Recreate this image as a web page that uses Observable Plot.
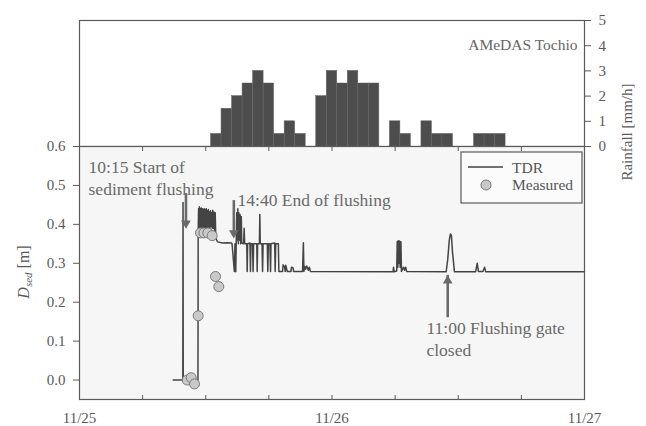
<!DOCTYPE html>
<html><head><meta charset="utf-8">
<script src="https://cdn.jsdelivr.net/npm/d3@7"></script>
<script src="https://cdn.jsdelivr.net/npm/@observablehq/plot@0.6"></script>
<style>
html,body{margin:0;padding:0;background:#fff;}
#chart{position:relative;width:646px;height:426px;}
#chart svg{position:absolute;left:0;top:0;}
</style></head><body><div id="chart"></div>
<script>
// ---- data (hours since 11/25 00:00) ----
const rainHours  = [13,14,15,16,17,18,19,20,21,22,23,24,25,26,27,28,29,30,31,32,33,34,35,36,37,38,39,40];
const rainValues = [0.5,1.5,2,2.5,3,2.5,0.5,1,0.5,0,2,3,2.5,3,2.5,2.5,0,1,0.5,0,1,0.5,0.5,0,0,0.5,0.5,0.5];
const rainTicks = [0,1,2,3,4,5];
const dayTicks = [0,24,48];
const dayLabels = ["11/25","11/26","11/27"];
const sixHourTicks = [0,6,12,18,24,30,36,42,48];
const depthTicks = [0,0.1,0.2,0.3,0.4,0.5,0.6];

const tdr = [
 [8.9,0],[9.82,0],[9.84,0.456],[9.86,0],[11.26,0],[11.28,0.38],
 [11.32,0.44],[11.36,0.38],[11.40,0.445],[11.44,0.375],[11.49,0.44],[11.53,0.38],[11.58,0.442],[11.62,0.375],
 [11.67,0.44],[11.71,0.38],[11.76,0.438],[11.8,0.378],[11.85,0.44],[11.9,0.38],[11.95,0.438],[12.0,0.38],
 [12.05,0.44],[12.1,0.385],[12.15,0.435],[12.2,0.385],[12.25,0.438],[12.3,0.39],[12.35,0.432],[12.4,0.39],
 [12.45,0.435],[12.5,0.395],[12.55,0.43],[12.6,0.39],[12.66,0.436],[12.72,0.39],[12.78,0.432],[12.84,0.385],
 [12.9,0.43],[12.95,0.37],[13.0,0.362],[13.1,0.356],[13.15,0.355],[13.6,0.352],[14.0,0.353],[14.45,0.352],
 [14.5,0.35],[14.72,0.279],[14.78,0.35],[14.85,0.278],[14.95,0.43],[15.0,0.36],[15.05,0.44],[15.1,0.35],
 [15.15,0.43],[15.2,0.36],[15.26,0.425],[15.32,0.35],[15.38,0.42],[15.42,0.352],[15.6,0.35],[15.65,0.39],
 [15.7,0.35],[15.9,0.35],[15.94,0.279],[15.98,0.35],[16.2,0.352],[16.25,0.279],[16.3,0.35],[16.45,0.35],
 [16.5,0.279],[16.55,0.35],[16.85,0.35],[16.89,0.279],[16.93,0.35],[17.1,0.35],[17.14,0.425],[17.18,0.35],
 [17.35,0.35],[17.4,0.279],[17.45,0.35],[17.85,0.35],[17.9,0.279],[17.95,0.35],[18.1,0.35],[18.16,0.279],
 [18.2,0.35],[18.55,0.352],[18.6,0.279],[18.65,0.35],[18.9,0.35],[18.95,0.279],[19.3,0.279],[19.35,0.296],
 [19.5,0.29],[19.55,0.279],[19.6,0.295],[19.75,0.279],[20.1,0.279],[20.15,0.29],[20.3,0.288],[20.35,0.279],
 [21.2,0.279],[21.28,0.353],[21.33,0.279],[21.4,0.292],[21.5,0.285],[21.6,0.293],[21.75,0.282],[21.85,0.29],
 [21.95,0.279],[29.8,0.278],[29.85,0.29],[29.9,0.278],[30.15,0.28],[30.2,0.356],[30.26,0.29],[30.3,0.358],
 [30.36,0.3],[30.42,0.357],[30.48,0.29],[30.55,0.355],[30.6,0.279],[30.8,0.29],[30.9,0.282],[31.0,0.29],
 [31.1,0.279],[34.85,0.278],[35.0,0.31],[35.15,0.36],[35.25,0.375],[35.35,0.372],[35.45,0.33],[35.64,0.278],
 [37.65,0.278],[37.8,0.30],[37.92,0.279],[38.35,0.279],[38.5,0.29],[38.62,0.278],[48,0.278]
];

const measuredHours  = [10.24,10.62,10.93,11.28,11.5,11.83,12.2,12.61,12.93,13.24];
const measuredValues = [0.0,0.006,-0.01,0.165,0.378,0.378,0.378,0.371,0.266,0.240];

const noteText  = ["10:15 Start of\nsediment flushing","14:40 End of flushing","11:00 Flushing gate\nclosed"];
const noteHour  = [0.86,15.02,32.98];
const noteValue = [0.572,0.487,0.158];

const arrowDownHour  = [10.12,14.67];
const arrowDownStart = [0.479,0.461];
const arrowDownTip   = [0.389,0.364];
const arrowUpHour  = [35.0];
const arrowUpStart = [0.173];
const arrowUpTip   = [0.269];

// ---- build ----
const W = 646, H = 426, ML = 79, MR = 62;
const font = "'Liberation Serif', 'Times New Roman', serif";
const axisColor = "#5a5a5a";
const noteColor = "#6a6a6a";
const baseStyle = {fontFamily: font, fontSize: "15px", color: axisColor, background: "transparent", overflow: "visible"};

const rain = rainHours.map((h, i) => ({h, v: rainValues[i]})).filter(d => d.v > 0);
const measured = measuredHours.map((h, i) => ({h, v: measuredValues[i]}));
const notes = noteText.map((t, i) => ({t, h: noteHour[i], v: noteValue[i]}));
const downs = arrowDownHour.map((h, i) => ({h, a: arrowDownStart[i], b: arrowDownTip[i]}));
const ups = arrowUpHour.map((h, i) => ({h, a: arrowUpStart[i], b: arrowUpTip[i]}));

const topPlot = Plot.plot({
  width: W, height: H, marginLeft: ML, marginRight: MR, marginTop: 20, marginBottom: 280,
  style: baseStyle,
  x: {domain: [0, 48], axis: null},
  y: {domain: [0, 5], axis: null},
  marks: [
    Plot.frame({fill: "#ffffff"}),
    Plot.rectY(rain, {x1: d => d.h - 0.5, x2: d => d.h + 0.5, y: "v", fill: "#4d4d4d", stroke: "#666", strokeWidth: 0.5}),
    Plot.axisY({anchor: "right", ticks: rainTicks, tickSize: 6, tickPadding: 8, tickFormat: d => String(d), label: null, stroke: axisColor}),
    Plot.text(["AMeDAS Tochio"], {frameAnchor: "top-right", dx: -7, dy: 18, textAnchor: "end", fontSize: 15.5, fill: "#666"}),
    Plot.text(["Rainfall [mm/h]"], {frameAnchor: "right", dx: 43, rotate: -90, fontSize: 15, fill: axisColor}),
    Plot.frame({stroke: axisColor, strokeWidth: 1.2})
  ]
});

const botPlot = Plot.plot({
  width: W, height: H, marginLeft: ML, marginRight: MR, marginTop: 146, marginBottom: 27,
  style: baseStyle,
  x: {domain: [0, 48], axis: null},
  y: {domain: [-0.05, 0.6], axis: null},
  marks: [
    Plot.frame({fill: "#f6f6f6"}),
    Plot.axisY({ticks: depthTicks, tickFormat: d => d.toFixed(1), tickSize: 6, tickPadding: 8, label: null, stroke: axisColor}),
    Plot.axisX({anchor: "bottom", ticks: sixHourTicks, tickSize: -4, tickFormat: () => "", label: null, stroke: axisColor}),
    Plot.axisX({anchor: "top", ticks: sixHourTicks, tickSize: -4, tickFormat: () => "", label: null, stroke: axisColor}),
    Plot.axisX({anchor: "bottom", ticks: dayTicks, tickSize: 0, tickPadding: 13, tickFormat: (d) => dayLabels[dayTicks.indexOf(d)], label: null}),
    Plot.line(tdr, {x: d => d[0], y: d => d[1], stroke: "#444", strokeWidth: 1.5}),
    Plot.dot(measured, {x: "h", y: "v", r: 5, fill: "#c9c9c9", stroke: "#7a7a7a", strokeWidth: 1}),
    Plot.ruleX(downs, {x: "h", y1: "a", y2: "b", stroke: noteColor, strokeWidth: 2.6, insetBottom: 5}),
    Plot.dot(downs, {x: "h", y: "b", symbol: "triangle", r: 3.6, rotate: 180, dy: -5.4, fill: noteColor, stroke: "none"}),
    Plot.ruleX(ups, {x: "h", y1: "a", y2: "b", stroke: noteColor, strokeWidth: 2.6, insetTop: 5}),
    Plot.dot(ups, {x: "h", y: "b", symbol: "triangle", r: 3.6, dy: 5.4, fill: noteColor, stroke: "none"}),
    Plot.text(notes, {x: "h", y: "v", text: "t", textAnchor: "start", lineAnchor: "top", lineHeight: 1.25, fontSize: 17.5, fill: noteColor}),
    Plot.frame({stroke: axisColor, strokeWidth: 1.2})
  ]
});

document.getElementById("chart").append(topPlot, botPlot);

// y-axis label with italic subscript
const svg = d3.select(botPlot);
const yl = svg.append("text")
  .attr("transform", "translate(29,272) rotate(-90)")
  .attr("text-anchor", "middle")
  .attr("font-family", font).attr("font-size", 16).attr("fill", axisColor);
yl.append("tspan").attr("font-style", "italic").text("D");
yl.append("tspan").attr("font-style", "italic").attr("font-size", 11).attr("dy", 3).text("sed");
yl.append("tspan").attr("dy", -3).text(" [m]");

// legend
const lg = svg.append("g").attr("font-family", font).attr("font-size", 15.5)
  .attr("fill", "#555").attr("text-anchor", "start");
lg.append("rect").attr("x", 461).attr("y", 152).attr("width", 121).attr("height", 51)
  .attr("fill", "#fbfbfb").attr("stroke", axisColor).attr("stroke-width", 1.2);
lg.append("line").attr("x1", 468).attr("x2", 503).attr("y1", 167).attr("y2", 167)
  .attr("stroke", "#444").attr("stroke-width", 1.6);
lg.append("text").attr("x", 512).attr("y", 173).attr("text-anchor", "start").text("TDR");
lg.append("circle").attr("cx", 486).attr("cy", 185).attr("r", 5)
  .attr("fill", "#c9c9c9").attr("stroke", "#7a7a7a");
lg.append("text").attr("x", 512).attr("y", 190).attr("text-anchor", "start").text("Measured");
</script></body></html>
